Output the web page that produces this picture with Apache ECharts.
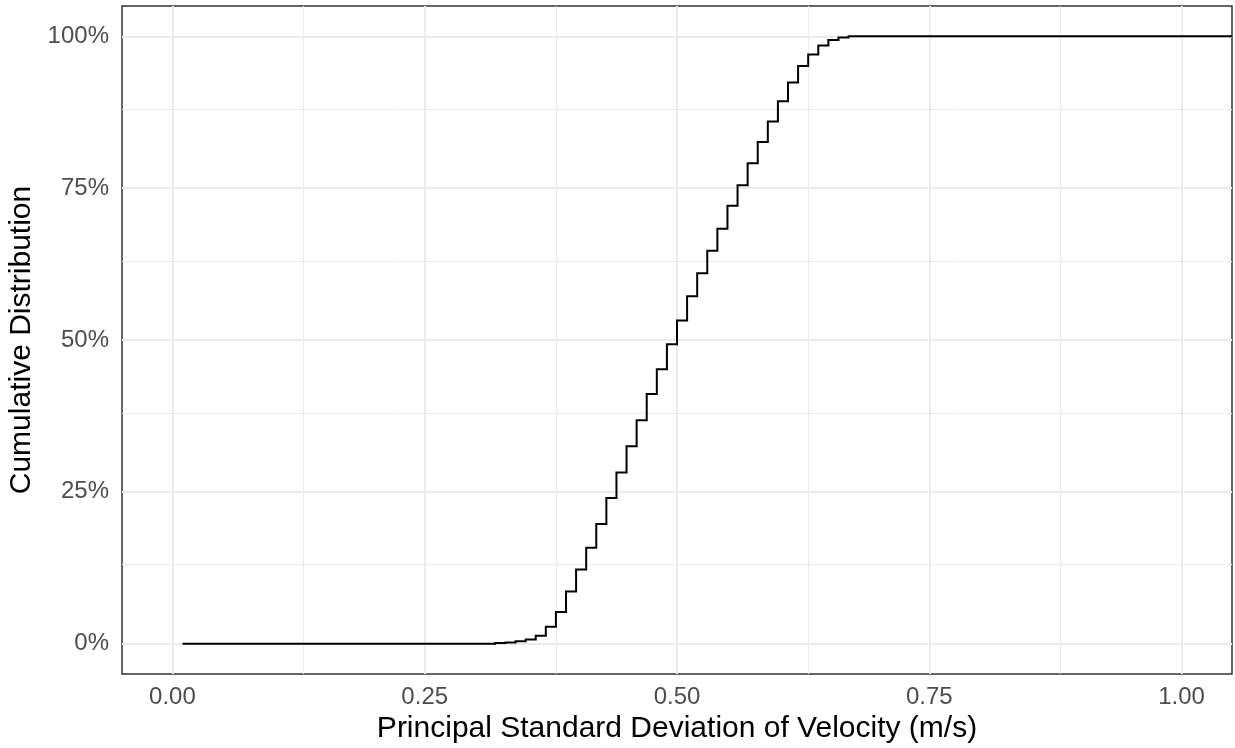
<!DOCTYPE html>
<html><head><meta charset="utf-8">
<script src="https://cdn.jsdelivr.net/npm/echarts@6/dist/echarts.min.js"></script>
<style>html,body{margin:0;padding:0;background:#fff}#c{width:1235px;height:748px}</style>
</head><body><div id="c"></div>
<script>
// ECDF step positions (m/s) and cumulative share after each step
const stepX = [0.01, 0.32, 0.33, 0.34, 0.35, 0.36, 0.37, 0.38, 0.39, 0.40, 0.41, 0.42, 0.43, 0.44, 0.45, 0.46, 0.47, 0.48, 0.49, 0.50, 0.51, 0.52, 0.53, 0.54, 0.55, 0.56, 0.57, 0.58, 0.59, 0.60, 0.61, 0.62, 0.63, 0.64, 0.65, 0.66, 0.67, 1.05];
const cumShare = [0, 0.001, 0.002, 0.004, 0.007, 0.013, 0.028, 0.052, 0.086, 0.122, 0.158, 0.197, 0.240, 0.282, 0.325, 0.368, 0.411, 0.452, 0.493, 0.532, 0.572, 0.610, 0.647, 0.683, 0.721, 0.755, 0.791, 0.826, 0.860, 0.893, 0.924, 0.951, 0.970, 0.985, 0.994, 0.998, 1.0, 1.0];
const xTicks = [0, 0.25, 0.5, 0.75, 1];
const xTickLabels = ['0.00', '0.25', '0.50', '0.75', '1.00'];
const xMinor = [0.125, 0.375, 0.625, 0.875];
const yTicks = [0, 0.25, 0.5, 0.75, 1];
const yTickLabels = ['0%', '25%', '50%', '75%', '100%'];
const yMinor = [0.125, 0.375, 0.625, 0.875];
const xTitle = 'Principal Standard Deviation of Velocity (m/s)';
const yTitle = 'Cumulative Distribution';

const FONT = '"Liberation Sans", Arial, sans-serif';
const chart = echarts.init(document.getElementById('c'), null, {renderer: 'canvas'});

function labelFor(ticks, labels) {
  return function (v) {
    for (let i = 0; i < ticks.length; i++) if (Math.abs(ticks[i] - v) < 1e-9) return labels[i];
    return '';
  };
}
const gridLines = [];
xTicks.forEach(v => gridLines.push({xAxis: v, lineStyle: {color: '#EBEBEB', width: 2, type: 'solid'}}));
xMinor.forEach(v => gridLines.push({xAxis: v, lineStyle: {color: '#EBEBEB', width: 1, type: 'solid'}}));
yTicks.forEach(v => gridLines.push({yAxis: v, lineStyle: {color: '#EBEBEB', width: 2, type: 'solid'}}));
yMinor.forEach(v => gridLines.push({yAxis: v, lineStyle: {color: '#EBEBEB', width: 1, type: 'solid'}}));

const ecdfData = stepX.map((x, i) => [x, cumShare[i]]);

const option = {
  animation: false,
  backgroundColor: '#ffffff',
  grid: {
    left: 122, right: 3, top: 6, bottom: 74,
    containLabel: false, outerBoundsMode: 'none',
    show: true, borderColor: '#333333', borderWidth: 1.5, backgroundColor: 'transparent'
  },
  xAxis: {
    type: 'value', min: -0.05, max: 1.05,
    name: xTitle, nameLocation: 'middle', nameGap: 39,
    nameTextStyle: {fontFamily: FONT, fontSize: 30, color: '#000000'},
    axisLine: {show: false},
    axisTick: {show: true, length: 6, customValues: xTicks, lineStyle: {color: '#333333', width: 1.5}},
    axisLabel: {show: true, customValues: xTicks, formatter: labelFor(xTicks, xTickLabels),
      fontFamily: FONT, fontSize: 24, color: '#4D4D4D', margin: 11},
    splitLine: {show: false}, minorSplitLine: {show: false}
  },
  yAxis: {
    type: 'value', min: -0.05, max: 1.05,
    name: yTitle, nameLocation: 'middle', nameGap: 80, nameRotate: 90,
    nameTextStyle: {fontFamily: FONT, fontSize: 30, color: '#000000'},
    axisLine: {show: false},
    axisTick: {show: true, length: 6, customValues: yTicks, lineStyle: {color: '#333333', width: 1.5}},
    axisLabel: {show: true, customValues: yTicks, formatter: labelFor(yTicks, yTickLabels),
      fontFamily: FONT, fontSize: 24, color: '#4D4D4D', margin: 13},
    splitLine: {show: false}, minorSplitLine: {show: false}
  },
  series: [{
    // host for the panel grid lines (invisible line)
    type: 'line',
    data: ecdfData,
    showSymbol: false, symbol: 'none',
    lineStyle: {opacity: 0, width: 0},
    silent: true, z: 1,
    markLine: {
      z: 1, silent: true, symbol: ['none', 'none'], label: {show: false},
      emphasis: {disabled: true}, animation: false,
      data: gridLines
    }
  }, {
    // ECDF step line, corners placed through the axes' scales
    type: 'custom',
    data: ecdfData,
    encode: {x: 0, y: 1},
    z: 3, silent: true,
    renderItem: function (params, api) {
      if (params.dataIndex !== 0) return null;
      const pts = [];
      for (let i = 0; i < ecdfData.length; i++) {
        if (i > 0) pts.push(api.coord([ecdfData[i][0], ecdfData[i - 1][1]]));
        pts.push(api.coord(ecdfData[i]));
      }
      return {
        type: 'polyline',
        shape: {points: pts},
        style: {stroke: '#000000', lineWidth: 2, fill: null, lineJoin: 'miter'},
        silent: true
      };
    }
  }]
};
chart.setOption(option);
</script></body></html>
